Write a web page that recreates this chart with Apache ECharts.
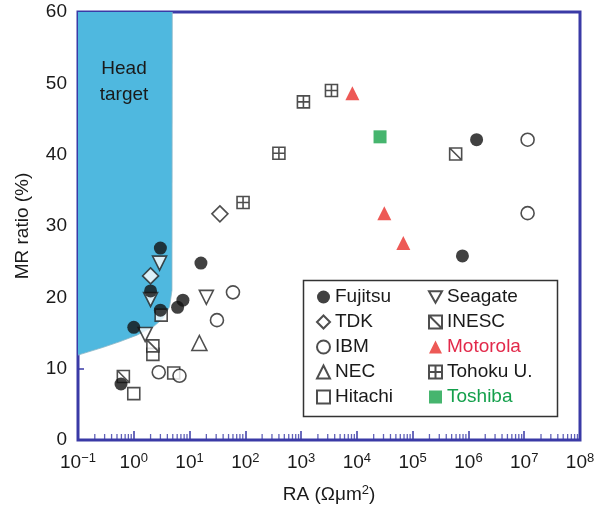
<!DOCTYPE html>
<html>
<head>
<meta charset="utf-8">
<script src="https://cdn.jsdelivr.net/npm/echarts@6/dist/echarts.min.js"></script>
<style>
  html, body { margin: 0; padding: 0; background: #ffffff; }
  #chart { width: 598px; height: 511px; }
</style>
</head>
<body>
<div id="chart"></div>
<script>
// RA (Ω·µm²) and MR ratio (%) pairs for each group
const fujitsu  = [[3.0, 26.9], [16, 24.8], [2.0, 20.9], [3.0, 18.2], [7.6, 19.6], [6.1, 18.6], [1.0, 15.8], [0.59, 7.85], [1.4e6, 42.1], [7.8e5, 25.8]];
const tdk      = [[35, 31.7], [2.0, 23.0]];
const ibm      = [[60, 20.7], [31, 16.8], [2.8, 9.5], [6.6, 9.0], [1.15e7, 42.1], [1.15e7, 31.8]];
const nec      = [[15, 13.6]];
const hitachi  = [[1.0, 6.5], [2.2, 12.0], [3.1, 17.5], [5.2, 9.4]];
const seagate  = [[2.9, 24.8], [2.0, 19.7], [1.6, 14.8], [20, 20.0]];
const inesc    = [[2.2, 13.2], [0.65, 8.9], [5.9e5, 40.1]];
const motorola = [[8300, 48.6], [3.1e4, 31.8], [6.8e4, 27.6]];
const tohoku   = [[91, 33.3], [400, 40.2], [1100, 47.4], [3500, 49.0]];
const toshiba  = [[2.6e4, 42.5]];

// lower boundary of the head target region (filled up to the top of the axis)
const headTarget = [[0.1, 11.9], [0.285, 13.0], [0.57, 13.8], [1.14, 14.7], [2.26, 15.9], [3.42, 17.1], [4.39, 18.7], [4.84, 21.0], [4.9, 60]];

// axis settings
const xMin = 0.1, xMax = 1e8;
const yMin = 0, yMax = 60, yStep = 10;

const FONT = '"Liberation Sans", Arial, Helvetica, sans-serif';
const AXIS_BLUE = '#3a3aa6';
const INK = '#222222';

// log-axis minor tick positions (2..9 within each decade)
const minorTicks = [];
for (let e = -1; e < 8; e++) {
  for (let m = 2; m <= 9; m++) minorTicks.push([m * Math.pow(10, e), 0]);
}

const hollow = { color: '#ffffff', borderColor: INK, borderWidth: 1.6 };
const SYM_DOWN = 'path://M0,0 L12,0 L6,10.4 Z';
const SYM_INESC = 'path://M0,0 L10,0 L10,10 L0,10 Z M0,0 L10,10';
const SYM_TOHOKU = 'path://M0,0 L10,0 L10,10 L0,10 Z M5,0 L5,10 M0,5 L10,5';

function sc(name, data, symbol, size, itemStyle, z) {
  return { name, type: 'scatter', data, symbol, symbolSize: size, itemStyle, z: z || 3, emphasis: { disabled: true } };
}

const supStyle = { fontSize: 13, fontFamily: FONT, color: '#1a1a1a', padding: [0, 0, 9, 0] };

const option = {
  animation: false,
  backgroundColor: '#ffffff',
  textStyle: { fontFamily: FONT },
  grid: { left: 78, right: 18, top: 12, bottom: 71, show: true, borderColor: AXIS_BLUE, borderWidth: 3, backgroundColor: 'transparent' },
  xAxis: {
    type: 'log', logBase: 10, min: xMin, max: xMax,
    axisLine: { show: false },
    axisTick: { show: true, inside: true, length: 9, lineStyle: { color: AXIS_BLUE, width: 1.5 } },
    splitLine: { show: false },
    axisLabel: {
      margin: 12,
      formatter: function (v) {
        const e = Math.round(Math.log10(v));
        return '{b|10}{s|' + (e < 0 ? '\u2212' + (-e) : e) + '}';
      },
      rich: { b: { fontSize: 19, fontFamily: FONT, color: '#1a1a1a' }, s: supStyle }
    },
    name: '{n|RA (\u03A9\u03BCm}{s|2}{n|)}',
    nameLocation: 'middle', nameGap: 44,
    nameTextStyle: { rich: { n: { fontSize: 19, fontFamily: FONT, color: '#1a1a1a' }, s: supStyle } }
  },
  yAxis: {
    type: 'value', min: yMin, max: yMax, interval: yStep,
    axisLine: { show: false },
    axisTick: { show: true, inside: true, length: 6, lineStyle: { color: AXIS_BLUE, width: 1.5 } },
    splitLine: { show: false },
    axisLabel: { margin: 11, fontSize: 19, fontFamily: FONT, color: '#1a1a1a' },
    name: 'MR ratio (%)', nameLocation: 'middle', nameGap: 46,
    nameTextStyle: { fontSize: 19, fontFamily: FONT, color: '#1a1a1a' }
  },
  legend: [
    {
      orient: 'vertical', left: 316, top: 287, padding: 0, itemGap: 5, itemWidth: 13, itemHeight: 13,
      textStyle: { fontSize: 19, fontFamily: FONT, color: '#1a1a1a', lineHeight: 20 },
      selectedMode: false,
      data: ['Fujitsu', 'TDK', 'IBM', 'NEC', 'Hitachi']
    },
    {
      orient: 'vertical', left: 428, top: 287, padding: 0, itemGap: 5, itemWidth: 13, itemHeight: 13,
      textStyle: { fontSize: 19, fontFamily: FONT, color: '#1a1a1a', lineHeight: 20 },
      selectedMode: false,
      data: ['Seagate', 'INESC',
        { name: 'Motorola', textStyle: { color: '#e2294a' } },
        'Tohoku U.',
        { name: 'Toshiba', textStyle: { color: '#14a04c' } }]
    }
  ],
  graphic: [
    { type: 'rect', shape: { x: 303.5, y: 280.5, width: 254, height: 136 }, style: { fill: 'none', stroke: '#333333', lineWidth: 1.5 }, z: 10 },
    { type: 'text', x: 124, y: 56, style: { text: 'Head\ntarget', fontSize: 19, fontFamily: FONT, fill: '#1a1a1a', align: 'center', verticalAlign: 'top', lineHeight: 26 }, z: 10 }
  ],
  series: [
    {
      name: 'Head target', type: 'line', data: headTarget, symbol: 'none', silent: true,
      lineStyle: { width: 0.8, color: '#8fb7c7' },
      areaStyle: { origin: 'end', color: '#4fb8df', opacity: 1 }, z: 1
    },
    {
      name: 'ticks', type: 'scatter', data: minorTicks, symbol: 'rect', symbolSize: [1.3, 6], symbolOffset: [0, -3],
      itemStyle: { color: AXIS_BLUE }, silent: true, z: 2, clip: false
    },
    sc('Hitachi', hitachi, 'rect', 12, hollow),
    sc('INESC', inesc, SYM_INESC, 12, hollow),
    sc('Tohoku U.', tohoku, SYM_TOHOKU, 12, hollow),
    sc('IBM', ibm, 'circle', 13, hollow),
    sc('NEC', nec, 'triangle', 15, hollow),
    sc('TDK', tdk, 'diamond', 16, hollow),
    sc('Seagate', seagate, SYM_DOWN, 14, hollow),
    sc('Fujitsu', fujitsu, 'circle', 13, { color: '#111111' }, 4),
    sc('Motorola', motorola, 'triangle', 14, { color: '#e8302c' }),
    sc('Toshiba', toshiba, 'rect', 13, { color: '#18a24a' })
  ]
};

const chart = echarts.init(document.getElementById('chart'), null, { renderer: 'canvas' });
chart.setOption(option);
</script>
</body>
</html>
